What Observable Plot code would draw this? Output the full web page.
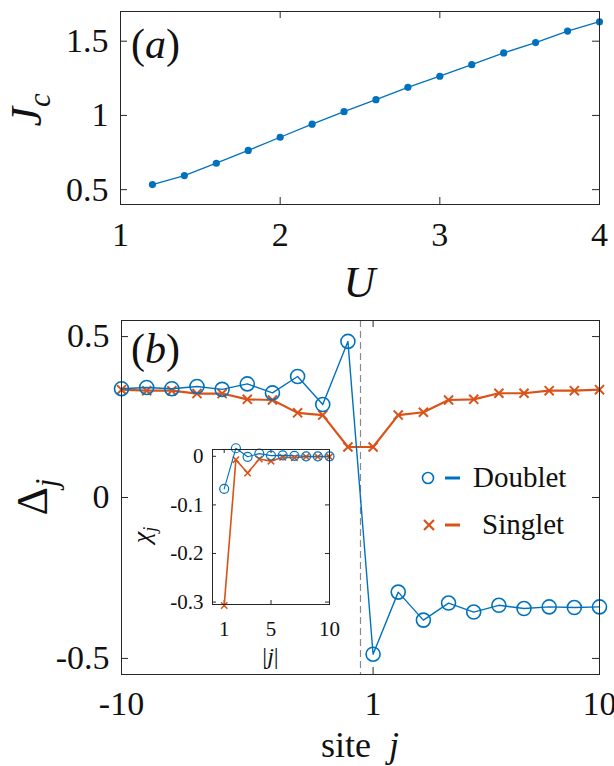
<!DOCTYPE html>
<html><head><meta charset="utf-8">
<script src="https://cdn.jsdelivr.net/npm/d3@7"></script>
<script src="https://cdn.jsdelivr.net/npm/@observablehq/plot@0.6"></script>
<style>
body{margin:0;background:#fff;}
#wrap{position:relative;width:614px;height:766px;overflow:hidden;background:#fff;font-family:'Liberation Serif','DejaVu Serif',serif;}
#wrap svg{position:absolute;overflow:visible;}
</style></head><body><div id="wrap"></div>
<script>
// ---- Data: panel (a)
const U = [1.2,1.4,1.6,1.8,2.0,2.2,2.4,2.6,2.8,3.0,3.2,3.4,3.6,3.8,4.0];
const Jc = [0.534,0.595,0.678,0.764,0.853,0.941,1.025,1.106,1.189,1.264,1.342,1.421,1.491,1.568,1.631];
const uTicks = [1,2,3,4];
const jcTicks = [0.5,1,1.5];
// ---- Data: panel (b)
const sites = [-10,-9,-8,-7,-6,-5,-4,-3,-2,-1,1,2,3,4,5,6,7,8,9,10];
const doublet = [0.338,0.342,0.338,0.345,0.336,0.353,0.325,0.376,0.289,0.485,
                 -0.487,-0.294,-0.381,-0.328,-0.356,-0.335,-0.345,-0.340,-0.342,-0.340];
const singlet = [0.335,0.332,0.332,0.323,0.323,0.305,0.303,0.263,0.256,0.157,
                 0.157,0.256,0.265,0.303,0.305,0.324,0.324,0.332,0.332,0.335];
const siteTicks = [-10,1,10];
const deltaTicks = [-0.5,0,0.5];
// ---- Data: inset
const absJ = [1,2,3,4,5,6,7,8,9,10];
const chiDoublet = [-0.067,0.0166,-0.001,0.0055,0.0014,0.002,0.001,0,0,0];
const chiSinglet = [-0.307,-0.007,-0.0345,-0.0055,-0.010,-0.002,-0.003,-0.001,-0.001,-0.001];
const absTicks = [1,5,10];
const chiTicks = [0,-0.1,-0.2,-0.3];
const seriesNames = ["Doublet","Singlet"];

const BLUE = "#0072BD", ORANGE = "#D95319", AX = "#262626";
const FONT = "'Liberation Serif','DejaVu Serif',serif";
const wrap = document.getElementById("wrap");

// position along the site axis (no site 0)
const pos = j => j < 0 ? j + 10 : j + 9;
const fmt = d => String(d);

function place(svg, left, top){ svg.style.left = left + "px"; svg.style.top = top + "px"; wrap.appendChild(svg); return svg; }
function inTicks(xt, yt, fx, fy, fw, fh, len){
  return [
    Plot.tickX(xt, {x: fx, insetTop: fh - len, stroke: AX}),
    Plot.tickX(xt, {x: fx, insetBottom: fh - len, stroke: AX}),
    Plot.tickY(yt, {y: fy, insetRight: fw - len, stroke: AX}),
    Plot.tickY(yt, {y: fy, insetLeft: fw - len, stroke: AX})
  ];
}
function mathText(svg, x, y, parts, opts = {}){
  const t = d3.select(svg).append("text")
    .attr("font-family", FONT).attr("font-size", opts.size || 40).attr("fill", "#111")
    .attr("text-anchor", opts.anchor || "start");
  if (opts.rotate) t.attr("transform", `translate(${x},${y}) rotate(${opts.rotate})`);
  else t.attr("x", x).attr("y", y);
  let shifted = 0;
  for (const p of parts){
    const ts = t.append("tspan").text(p.t);
    if (p.italic) ts.attr("font-style", "italic");
    const want = p.sub ? (p.subDy || 9) : 0;
    if (want !== shifted){ ts.attr("dy", want - shifted); shifted = want; }
    if (p.sub) ts.attr("font-size", p.size || (opts.size || 40) * 0.7);
    if (p.dx) ts.attr("dx", p.dx);
  }
  return t;
}

// ================= Panel (a)
{
  const W = 614, H = 290, mL = 120, mR = 15, mT = 11, mB = 86;
  const fw = W - mL - mR, fh = H - mT - mB;
  const svg = Plot.plot({
    width: W, height: H, marginLeft: mL, marginRight: mR, marginTop: mT, marginBottom: mB,
    style: {fontFamily: FONT, fontSize: "34px", color: AX, background: "transparent"},
    x: {domain: [1, 4]}, y: {domain: [0.4, 1.7]},
    marks: [
      Plot.axisX({ticks: uTicks, tickSize: 0, tickPadding: 17, label: null, fill: "#111", tickFormat: fmt}),
      Plot.axisY({ticks: jcTicks, tickSize: 0, tickPadding: 12, label: null, fill: "#111", tickFormat: fmt}),
      ...inTicks(uTicks, jcTicks, d => d, d => d, fw, fh, 7),
      Plot.line(U.map((u, i) => ({u, v: Jc[i]})), {x: "u", y: "v", stroke: BLUE, strokeWidth: 1.3}),
      Plot.dot(U.map((u, i) => ({u, v: Jc[i]})), {x: "u", y: "v", fill: BLUE, r: 3.6}),
      Plot.frame({stroke: AX})
    ]
  });
  place(svg, 0, 0);
  mathText(svg, 131, 58, [{t: "("}, {t: "a", italic: true}, {t: ")"}], {size: 42});
  mathText(svg, 41, 110, [{t: "J", italic: true}, {t: "c", italic: true, sub: true, subDy: 9}], {size: 44, rotate: -90, anchor: "middle"});
  mathText(svg, mL + fw / 2, 297, [{t: "U", italic: true}], {size: 44, anchor: "middle"});
}

// ================= Panel (b)
{
  const W = 614, H = 476, mL = 121, mR = 15, mT = 30, mB = 92, top = 290;
  const fw = W - mL - mR, fh = H - mT - mB;
  const dRows = sites.map((j, i) => ({p: pos(j), v: doublet[i]}));
  const sRows = sites.map((j, i) => ({p: pos(j), v: singlet[i]}));
  const boundary = (pos(-1) + pos(1)) / 2;
  const svg = Plot.plot({
    width: W, height: H, marginLeft: mL, marginRight: mR, marginTop: mT, marginBottom: mB,
    style: {fontFamily: FONT, fontSize: "34px", color: AX, background: "transparent"},
    x: {domain: [pos(-10), pos(10)]}, y: {domain: [-0.55, 0.55]},
    marks: [
      Plot.axisX({ticks: siteTicks.map(pos), tickSize: 0, tickPadding: 16, label: null, fill: "#111",
                  tickFormat: p => String(sites[p])}),
      Plot.axisY({ticks: deltaTicks, tickSize: 0, tickPadding: 12, label: null, fill: "#111", tickFormat: fmt}),
      ...inTicks(siteTicks.map(pos), deltaTicks, d => d, d => d, fw, fh, 7),
      Plot.ruleX([boundary], {stroke: "#8a8a8a", strokeWidth: 1.2, strokeDasharray: "7,4"}),
      Plot.line(sRows, {x: "p", y: "v", stroke: ORANGE, strokeWidth: 2.2}),
      Plot.dot(sRows, {x: "p", y: "v", symbol: "times", stroke: ORANGE, strokeWidth: 2, r: 4.2}),
      Plot.line(dRows, {x: "p", y: "v", stroke: BLUE, strokeWidth: 1.4}),
      Plot.dot(dRows, {x: "p", y: "v", stroke: BLUE, strokeWidth: 1.6, r: 7, fill: "none"}),
      Plot.frame({stroke: AX})
    ]
  });
  place(svg, 0, top);
  mathText(svg, 131, 73, [{t: "("}, {t: "b", italic: true}, {t: ")"}], {size: 42});
  mathText(svg, 47, 207, [{t: "Δ"}, {t: "j", italic: true, sub: true, subDy: 10}], {size: 44, rotate: -90, anchor: "middle"});
  mathText(svg, mL + fw / 2, 467, [{t: "site "}, {t: " j", italic: true}], {size: 36, anchor: "middle"});
  // legend
  const g = d3.select(svg).append("g").attr("text-anchor", "start");
  const rows = [{name: seriesNames[0], c: BLUE, y: 188, x: 473}, {name: seriesNames[1], c: ORANGE, y: 235, x: 482}];
  rows.forEach((r, k) => {
    if (k === 0) g.append("circle").attr("cx", 428).attr("cy", r.y).attr("r", 5.5).attr("fill", "none").attr("stroke", r.c).attr("stroke-width", 1.6);
    else g.append("path").attr("d", `M${424},${r.y - 5}L${434},${r.y + 5}M${424},${r.y + 5}L${434},${r.y - 5}`).attr("stroke", r.c).attr("stroke-width", 2.2);
    g.append("line").attr("x1", 445).attr("x2", 460).attr("y1", r.y).attr("y2", r.y).attr("stroke", r.c).attr("stroke-width", 3);
    g.append("text").attr("x", r.x).attr("y", r.y + 9).attr("text-anchor", "start").attr("font-family", FONT).attr("font-size", 29).attr("fill", "#111").text(r.name);
  });
}

// ================= Inset
{
  const left = 130, top = 430, W = 210, H = 236, mL = 82, mR = 11, mT = 19, mB = 62;
  const fw = W - mL - mR, fh = H - mT - mB;
  const dRows = absJ.map((a, i) => ({a, v: chiDoublet[i]}));
  const sRows = absJ.map((a, i) => ({a, v: chiSinglet[i]}));
  const svg = Plot.plot({
    width: W, height: H, marginLeft: mL, marginRight: mR, marginTop: mT, marginBottom: mB,
    style: {fontFamily: FONT, fontSize: "21px", color: AX, background: "transparent"},
    x: {domain: [0, 10]}, y: {domain: [-0.305, 0.014]},
    marks: [
      Plot.frame({fill: "white", stroke: "none"}),
      Plot.axisX({ticks: absTicks, tickSize: 0, tickPadding: 17, label: null, fill: "#111", tickFormat: fmt}),
      Plot.axisY({ticks: chiTicks, tickSize: 0, tickPadding: 9, label: null, fill: "#111", tickFormat: fmt}),
      ...inTicks(absTicks, chiTicks, d => d, d => d, fw, fh, 4),
      Plot.line(sRows, {x: "a", y: "v", stroke: ORANGE, strokeWidth: 1.6}),
      Plot.dot(sRows, {x: "a", y: "v", symbol: "times", stroke: ORANGE, strokeWidth: 1.5, r: 3}),
      Plot.line(dRows, {x: "a", y: "v", stroke: BLUE, strokeWidth: 1.1}),
      Plot.dot(dRows, {x: "a", y: "v", stroke: BLUE, strokeWidth: 1.2, r: 4.5, fill: "none"}),
      Plot.frame({stroke: AX})
    ]
  });
  place(svg, left, top);
  mathText(svg, 20, 105, [{t: "χ", italic: true}, {t: "j", italic: true, sub: true, subDy: 6}], {size: 26, rotate: -90, anchor: "middle"});
  mathText(svg, mL + fw / 2, 234, [{t: "|"}, {t: "j", italic: true}, {t: "|"}], {size: 24, anchor: "middle"});
}
</script></body></html>
